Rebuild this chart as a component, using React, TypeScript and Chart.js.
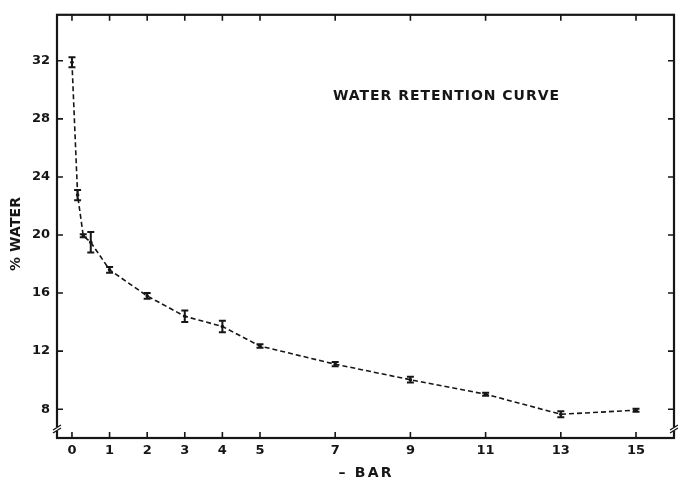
import React, { useEffect, useRef } from "react";
import { Chart, registerables } from "chart.js";

Chart.register(...registerables);

const pressures = [0, 0.15, 0.3, 0.5, 1, 2, 3, 4, 5, 7, 9, 11, 13, 15];
const waterPct = [31.9, 22.75, 19.95, 19.5, 17.6, 15.8, 14.4, 13.7, 12.35, 11.1, 10.03, 9.03, 7.65, 7.93];
const errors = [0.35, 0.35, 0.1, 0.7, 0.2, 0.2, 0.4, 0.4, 0.12, 0.15, 0.2, 0.1, 0.2, 0.1];
const xTicks = [0, 1, 2, 3, 4, 5, 7, 9, 11, 13, 15];
const yTicks = [8, 12, 16, 20, 24, 28, 32];
const chartTitle = "WATER RETENTION CURVE";
const xTitle = "\u2013 BAR";
const yTitle = "% WATER";

const INK = "#161616";
const FONT = "DejaVu Sans";

const decorPlugin = {
  id: "decor",
  afterDatasetsDraw(chart: any) {
    const ctx = chart.ctx;
    const xs = chart.scales.x;
    const ys = chart.scales.y;
    const { left, right, top, bottom } = chart.chartArea;
    ctx.save();
    // error bars
    ctx.strokeStyle = INK;
    ctx.lineWidth = 2;
    pressures.forEach((p, i) => {
      const px = xs.getPixelForValue(p);
      const y1 = ys.getPixelForValue(waterPct[i] + errors[i]);
      const y2 = ys.getPixelForValue(waterPct[i] - errors[i]);
      ctx.beginPath();
      ctx.moveTo(px, y1);
      ctx.lineTo(px, y2);
      ctx.moveTo(px - 3.5, y1);
      ctx.lineTo(px + 3.5, y1);
      ctx.moveTo(px - 3.5, y2);
      ctx.lineTo(px + 3.5, y2);
      ctx.stroke();
    });
    // frame
    ctx.lineWidth = 2.2;
    ctx.strokeRect(left, top, right - left, bottom - top);
    // inward ticks
    ctx.lineWidth = 1.6;
    const tl = 6;
    ctx.beginPath();
    xTicks.forEach((t) => {
      const px = xs.getPixelForValue(t);
      ctx.moveTo(px, bottom);
      ctx.lineTo(px, bottom - tl);
      ctx.moveTo(px, top);
      ctx.lineTo(px, top + tl);
    });
    yTicks.forEach((t) => {
      const py = ys.getPixelForValue(t);
      ctx.moveTo(left, py);
      ctx.lineTo(left + tl, py);
      ctx.moveTo(right, py);
      ctx.lineTo(right - tl, py);
    });
    ctx.stroke();
    // axis breaks
    [left, right].forEach((ax) => {
      const yb = bottom - 9;
      ctx.fillStyle = "#ffffff";
      ctx.fillRect(ax - 2, yb - 2, 4, 4);
      ctx.strokeStyle = INK;
      ctx.lineWidth = 1.4;
      ctx.beginPath();
      ctx.moveTo(ax - 4, yb + 1);
      ctx.lineTo(ax + 4, yb - 4);
      ctx.moveTo(ax - 4, yb + 4);
      ctx.lineTo(ax + 4, yb - 1);
      ctx.stroke();
    });
    // texts
    ctx.fillStyle = INK;
    ctx.textBaseline = "middle";
    ctx.font = `bold 14px "${FONT}"`;
    const fitText = (text: string, x: number, y: number, width: number) => {
      (ctx as any).letterSpacing = "0px";
      const w = ctx.measureText(text).width;
      const ls = (width - w) / Math.max(1, text.length - 1);
      (ctx as any).letterSpacing = `${ls}px`;
      ctx.textAlign = "left";
      ctx.fillText(text, x, y);
      (ctx as any).letterSpacing = "0px";
    };
    fitText(chartTitle, left + 276, top + 82, 226);
    fitText(xTitle, (left + right) / 2 - 27, 473, 53);
    ctx.save();
    ctx.translate(16, 234);
    ctx.rotate(-Math.PI / 2);
    fitText(yTitle, -37, 0, 74);
    ctx.restore();
    ctx.restore();
  },
};

export default function App() {
  const ref = useRef<HTMLCanvasElement | null>(null);
  useEffect(() => {
    document.body.style.margin = "0";
    const canvas = ref.current!;
    const chart = new Chart(canvas, {
      type: "line",
      data: {
        datasets: [
          {
            data: pressures.map((p, i) => ({ x: p, y: waterPct[i] })),
            borderColor: INK,
            borderWidth: 1.6,
            borderDash: [5, 3],
            pointRadius: 1.8,
            pointBackgroundColor: INK,
            pointBorderWidth: 0,
            tension: 0,
            fill: false,
          },
        ],
      },
      options: {
        animation: false,
        responsive: false,
        maintainAspectRatio: false,
        layout: { padding: { top: 12, right: 3, left: 0, bottom: 0 } },
        plugins: { legend: { display: false }, tooltip: { enabled: false }, title: { display: false } },
        scales: {
          x: {
            type: "linear",
            min: -0.398,
            max: 16.01,
            grid: { display: false, drawTicks: false },
            border: { display: false },
            afterBuildTicks: (s: any) => {
              s.ticks = xTicks.map((v) => ({ value: v }));
            },
            afterFit: (s: any) => {
              s.height = 42;
            },
            ticks: {
              padding: 5,
              color: INK,
              font: { family: FONT, size: 13, weight: "bold" },
              maxRotation: 0,
              autoSkip: false,
              callback: (v: any) => String(v),
            },
          },
          y: {
            type: "linear",
            min: 6.015,
            max: 35.17,
            grid: { display: false, drawTicks: false },
            border: { display: false },
            afterBuildTicks: (s: any) => {
              s.ticks = yTicks.map((v) => ({ value: v }));
            },
            afterFit: (s: any) => {
              s.width = 57;
            },
            ticks: {
              padding: 7,
              color: INK,
              font: { family: FONT, size: 13, weight: "bold" },
              autoSkip: false,
              callback: (v: any) => String(v),
            },
          },
        },
      },
      plugins: [decorPlugin],
    });
    return () => chart.destroy();
  }, []);
  return (
    <div style={{ width: 678, height: 480, background: "#ffffff" }}>
      <canvas ref={ref} width={678} height={480} style={{ display: "block" }} />
    </div>
  );
}
